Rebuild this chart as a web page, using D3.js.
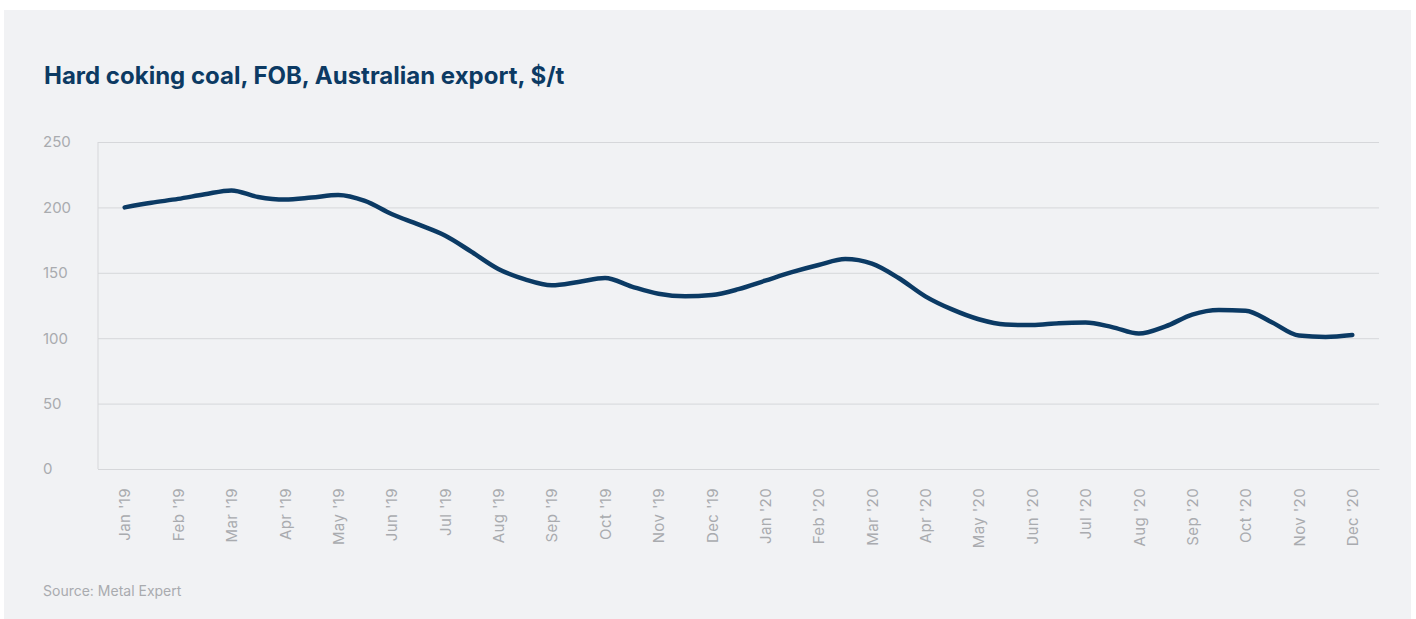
<!DOCTYPE html>
<html>
<head>
<meta charset="utf-8">
<script src="https://cdn.jsdelivr.net/npm/d3@7"></script>
<style>
  html, body { margin: 0; padding: 0; background: #ffffff; }
  svg { display: block; }
</style>
</head>
<body>
<svg id="chart" width="1416" height="619"></svg>
<script>
// Month tick labels along the x axis
const months = ["Jan '19","Feb '19","Mar '19","Apr '19","May '19","Jun '19","Jul '19","Aug '19","Sep '19","Oct '19","Nov '19","Dec '19",
                "Jan '20","Feb '20","Mar '20","Apr '20","May '20","Jun '20","Jul '20","Aug '20","Sep '20","Oct '20","Nov '20","Dec '20"];

// Price observations, twice a month (position in months from Jan '19)
const periods = d3.range(0, 23.01, 0.5);
const prices = [200, 203.5, 206.5, 210, 213, 208, 206, 207.5, 209.5, 205,
                195, 187, 178.5, 166, 153, 145, 140.5, 143, 146, 139.5,
                134, 132, 133, 137.5, 144, 150.5, 156, 160.5, 157, 146,
                132, 122, 114.5, 110.5, 110, 111.5, 112, 108.5, 103.5, 109,
                118, 121.5, 121, 112, 102, 101, 102.5];

const yTicks = [0, 50, 100, 150, 200, 250];

const svg = d3.select("#chart");
const plot = { left: 98, right: 1379, top: 142, bottom: 469 };
const font = "Inter, 'Liberation Sans', sans-serif";
const grey = "#a9abaf";
const gridColor = "#d6d7da";

// Panel background
svg.append("rect").attr("x", 4).attr("y", 10).attr("width", 1407).attr("height", 609).attr("fill", "#f1f2f4");

// Title
svg.append("text")
  .attr("x", 44).attr("y", 84)
  .attr("font-family", font)
  .attr("font-weight", 700).attr("font-size", 24)
  .attr("fill", "#0c3a63")
  .text("Hard coking coal, FOB, Australian export, $/t");

const x = d3.scaleLinear().domain([-0.5, 23.5]).range([plot.left, plot.right]);
const y = d3.scaleLinear().domain([0, 250]).range([plot.bottom, plot.top]);

// Horizontal gridlines and y labels
const yAxis = svg.append("g").attr("transform", `translate(${plot.left},0)`)
  .call(d3.axisLeft(y).tickValues(yTicks).tickSize(-(plot.right - plot.left)).tickPadding(0));
yAxis.select(".domain").remove();
yAxis.selectAll(".tick line").attr("stroke", gridColor).attr("stroke-width", 1);
yAxis.selectAll(".tick text")
  .attr("x", 43 - plot.left).attr("text-anchor", "start").attr("dy", "0.32em")
  .attr("font-family", font).attr("font-size", 15)
  .attr("fill", grey);

// Left axis line
svg.append("line").attr("x1", plot.left).attr("x2", plot.left).attr("y1", plot.top).attr("y2", plot.bottom)
  .attr("stroke", gridColor).attr("stroke-width", 1);

// X axis with rotated month labels
const xAxis = svg.append("g").attr("transform", `translate(0,${plot.bottom})`)
  .call(d3.axisBottom(x).tickValues(d3.range(months.length)).tickFormat(i => months[i]).tickSize(0));
xAxis.select(".domain").attr("stroke", gridColor);
xAxis.selectAll(".tick text")
  .attr("transform", "rotate(-90)")
  .attr("x", -19).attr("y", 0).attr("dy", "0.35em")
  .attr("text-anchor", "end")
  .attr("font-family", font).attr("font-size", 15).attr("letter-spacing", 0.4)
  .attr("fill", grey);

// Price line
const line = d3.line()
  .x((d, i) => x(periods[i]))
  .y(d => y(d))
  .curve(d3.curveMonotoneX);

svg.append("path")
  .datum(prices)
  .attr("d", line)
  .attr("fill", "none")
  .attr("stroke", "#0b3a64")
  .attr("stroke-width", 4.5)
  .attr("stroke-linecap", "round")
  .attr("stroke-linejoin", "round");

// Source note
svg.append("text")
  .attr("x", 43).attr("y", 596)
  .attr("font-family", font).attr("font-size", 14)
  .attr("fill", grey)
  .text("Source: Metal Expert");
</script>
</body>
</html>
